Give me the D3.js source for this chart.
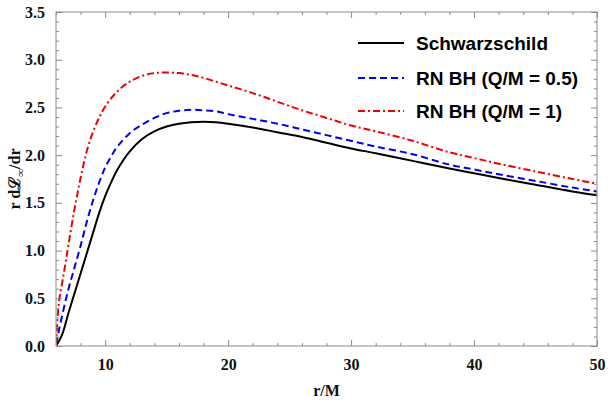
<!DOCTYPE html>
<html><head><meta charset="utf-8">
<script src="https://cdn.jsdelivr.net/npm/d3@7/dist/d3.min.js"></script>
<style>
html,body{margin:0;padding:0;background:#fff;}
svg{display:block;}
.tick-label{font-family:"Liberation Serif","Times New Roman",serif;font-weight:bold;font-size:16px;fill:#111;}
.legend-text{font-family:"Liberation Sans",Arial,sans-serif;font-weight:bold;font-size:19px;fill:#000;}
</style></head>
<body>
<svg id="chart" width="608" height="403"></svg>
<script>
// ---- data ----
const radiusSB = [6, 6.5, 7, 7.5, 8, 8.5, 9, 9.5, 10, 10.5, 11, 12, 13, 14, 15, 16, 17, 18, 19, 20, 22, 24, 26, 28, 30, 32, 35, 38, 40, 42, 45, 48, 50];
const schwarzschild = [0, 0.12, 0.34, 0.55, 0.76, 0.97, 1.18, 1.39, 1.57, 1.72, 1.85, 2.04, 2.17, 2.25, 2.30, 2.33, 2.345, 2.35, 2.345, 2.33, 2.29, 2.24, 2.19, 2.13, 2.07, 2.02, 1.94, 1.86, 1.81, 1.76, 1.69, 1.62, 1.58];
const rnHalf = [0.02, 0.32, 0.59, 0.82, 1.05, 1.30, 1.52, 1.71, 1.87, 1.99, 2.09, 2.23, 2.32, 2.39, 2.44, 2.465, 2.475, 2.47, 2.46, 2.43, 2.38, 2.33, 2.27, 2.21, 2.15, 2.09, 2.01, 1.90, 1.85, 1.80, 1.73, 1.66, 1.62];
const radiusR = [6, 6.05, 6.25, 6.5, 6.75, 7, 7.5, 8, 8.5, 9, 9.5, 10, 11, 12, 13, 14, 15, 16, 17, 18, 19, 20, 22, 24, 26, 28, 30, 32, 35, 38, 40, 42, 45, 48, 50];
const rnOne = [0, 0.13, 0.47, 0.66, 0.85, 1.05, 1.43, 1.76, 2.04, 2.24, 2.39, 2.51, 2.67, 2.77, 2.83, 2.86, 2.865, 2.86, 2.84, 2.81, 2.77, 2.73, 2.65, 2.56, 2.47, 2.39, 2.31, 2.25, 2.15, 2.03, 1.97, 1.91, 1.83, 1.75, 1.70];
const seriesNames = ["Schwarzschild", "RN BH (Q/M = 0.5)", "RN BH (Q/M = 1)"];
const xTicks = [10, 20, 30, 40, 50];
const yTicks = [0, 0.5, 1.0, 1.5, 2.0, 2.5, 3.0, 3.5];

const series = [
  {name: seriesNames[0], xs: radiusSB, ys: schwarzschild, color: "#000000", dash: null},
  {name: seriesNames[1], xs: radiusSB, ys: rnHalf, color: "#0000ee", dash: "7,4"},
  {name: seriesNames[2], xs: radiusR, ys: rnOne, color: "#ee0000", dash: "7,3,2,3"}
];

const svg = d3.select("#chart");
const L = 56, R = 597, T = 12, B = 346;
const x = d3.scaleLinear().domain([6, 50]).range([L, R]);
const y = d3.scaleLinear().domain([0, 3.5]).range([B, T]);

const frameColor = "#8a8a8a";

svg.append("clipPath").attr("id", "clip").append("rect")
  .attr("x", L).attr("y", T).attr("width", R - L).attr("height", B - T);

// curves
const line = d3.line().x(d => x(d[0])).y(d => y(d[1])).curve(d3.curveCatmullRom.alpha(0.5));
const g = svg.append("g").attr("clip-path", "url(#clip)");
series.forEach(s => {
  const pts = s.xs.map((r, i) => [r, s.ys[i]]);
  g.append("path").datum(pts).attr("d", line)
    .attr("fill", "none").attr("stroke", s.color).attr("stroke-width", 2)
    .attr("stroke-dasharray", s.dash);
});

// axes (ticks inside)
const minorX = d3.range(6, 50.01, 2).filter(v => v % 10 !== 0);
const minorY = d3.range(0, 3.501, 0.1).map(v => +v.toFixed(1)).filter(v => Math.abs(v * 2 - Math.round(v * 2)) > 1e-6);

function styleAxis(sel) {
  sel.select(".domain").remove();
  sel.selectAll("line").attr("stroke", frameColor).attr("stroke-width", 1);
}

// bottom
const bottomMajor = svg.append("g").attr("transform", `translate(0,${B})`)
  .call(d3.axisBottom(x).tickValues(xTicks).tickSize(-6).tickPadding(13).tickFormat(d3.format("d")));
styleAxis(bottomMajor);
bottomMajor.selectAll("text").attr("class", "tick-label").attr("fill", null);
const bottomMinor = svg.append("g").attr("transform", `translate(0,${B})`)
  .call(d3.axisBottom(x).tickValues(minorX).tickSize(-3).tickFormat(""));
styleAxis(bottomMinor);
// top
const topMajor = svg.append("g").attr("transform", `translate(0,${T})`)
  .call(d3.axisTop(x).tickValues(xTicks).tickSize(-6).tickFormat(""));
styleAxis(topMajor);
const topMinor = svg.append("g").attr("transform", `translate(0,${T})`)
  .call(d3.axisTop(x).tickValues(minorX).tickSize(-3).tickFormat(""));
styleAxis(topMinor);
// left
const leftMajor = svg.append("g").attr("transform", `translate(${L},0)`)
  .call(d3.axisLeft(y).tickValues(yTicks).tickSize(-6).tickPadding(11).tickFormat(d3.format(".1f")));
styleAxis(leftMajor);
leftMajor.selectAll("text").attr("class", "tick-label").attr("fill", null);
const leftMinor = svg.append("g").attr("transform", `translate(${L},0)`)
  .call(d3.axisLeft(y).tickValues(minorY).tickSize(-3).tickFormat(""));
styleAxis(leftMinor);
// right
const rightMajor = svg.append("g").attr("transform", `translate(${R},0)`)
  .call(d3.axisRight(y).tickValues(yTicks).tickSize(-6).tickFormat(""));
styleAxis(rightMajor);
const rightMinor = svg.append("g").attr("transform", `translate(${R},0)`)
  .call(d3.axisRight(y).tickValues(minorY).tickSize(-3).tickFormat(""));
styleAxis(rightMinor);

// frame
svg.append("rect").attr("x", L).attr("y", T).attr("width", R - L).attr("height", B - T)
  .attr("fill", "none").attr("stroke", frameColor).attr("stroke-width", 1);

// axis titles
svg.append("text").attr("class", "tick-label")
  .attr("x", (L + R) / 2).attr("y", 392).attr("text-anchor", "middle")
  .attr("dominant-baseline", "middle").text("r/M");

const yt = svg.append("text").attr("class", "tick-label")
  .attr("transform", `translate(20,${(T + B) / 2}) rotate(-90)`)
  .attr("text-anchor", "middle");
yt.append("tspan").text("r d");
yt.append("tspan").text("\u2112");
yt.append("tspan").attr("font-size", "11px").attr("dy", 4).text("\u221E");
yt.append("tspan").attr("dy", -4).text("/dr");

// legend
const legendY = [43, 78, 111];
series.forEach((s, i) => {
  svg.append("line").attr("x1", 358).attr("x2", 404).attr("y1", legendY[i]).attr("y2", legendY[i])
    .attr("stroke", s.color).attr("stroke-width", 2).attr("stroke-dasharray", s.dash);
  svg.append("text").attr("class", "legend-text").attr("x", 416).attr("y", legendY[i])
    .attr("dominant-baseline", "central").text(s.name);
});
</script>
</body></html>
